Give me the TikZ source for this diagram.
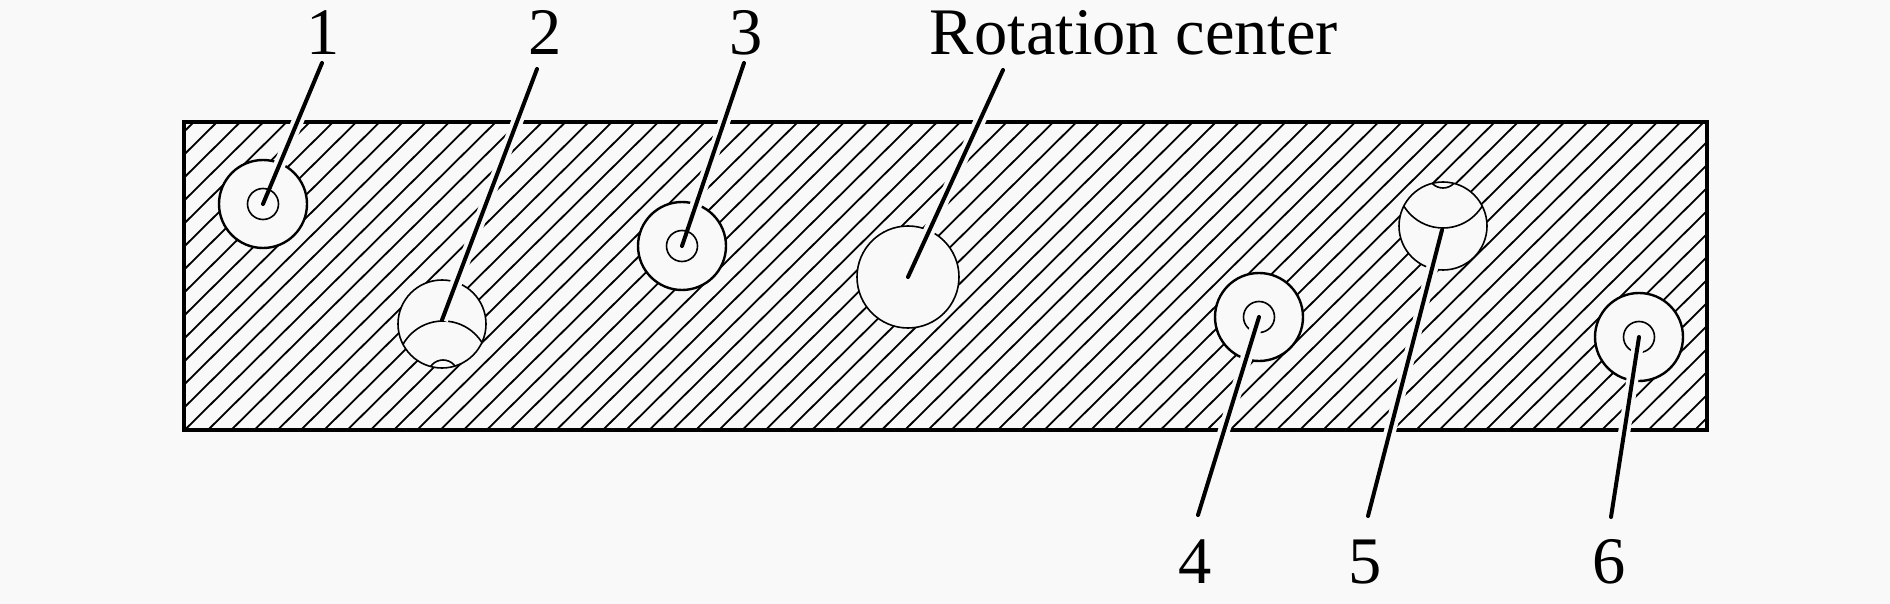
\documentclass[tikz,border=0pt]{standalone}
\usepackage{fontspec}
\setmainfont{Liberation Serif}
\begin{document}
\begin{tikzpicture}[x=1pt,y=-1pt]
      \newcommand{\plateleft}[0]{184}
      \newcommand{\plateright}[0]{1707}
      \newcommand{\platetop}[0]{122}
      \newcommand{\platebottom}[0]{430}

      \definecolor{paper}{rgb}{0.976,0.976,0.976}

      \tikzstyle{hole}=[
        draw,
        circle,
        fill=paper,
        minimum size=88pt,
        inner sep=0pt,
        line width=2.4pt
      ]
      \tikzstyle{bore}=[draw, circle, minimum size=31pt, inner sep=0pt, line width=1.6pt]
      \tikzstyle{numlabel}=[inner sep=0pt, anchor=base, font=\fontsize{66.5}{70}\selectfont]
      \tikzstyle{hatch}=[line width=1.8pt, draw=black]
      \tikzstyle{halo}=[line width=12pt, draw=paper]
      \tikzstyle{leader}=[line width=4pt, line cap=round, draw=black]

      \useasboundingbox[fill=paper] (0,0) rectangle (1890,604);

      % plate
      \begin{scope}
        \clip (\plateleft,\platetop) rectangle (\plateright,\platebottom);
        \foreach \k in {-8,...,84} {
          \draw[hatch] (183,201.7+23*\k) -- ++(1600,-1584);
        }
      \end{scope}
      \node[draw, line width=4pt, inner sep=0pt, minimum width=1523pt, minimum height=308pt] (plate) at (945.5,276) {};

      % holes
      \node[hole] (hole1) at (263,204) {};
      \node[hole, line width=1.6pt] (hole2) at (442,324) {};
      \node[hole] (hole3) at (682,246) {};
      \node[hole, minimum size=102pt, line width=1.6pt] (center) at (908,277) {};
      \node[hole] (hole4) at (1259,317) {};
      \node[hole, line width=1.6pt] (hole5) at (1443,226) {};
      \node[hole] (hole6) at (1639,337) {};

      \begin{scope}
        \clip (442,324) circle (44pt);
        \draw[line width=1.6pt] (443,367) circle (46pt);
        \draw[line width=1.6pt] (443,375) circle (15pt);
      \end{scope}
      \begin{scope}
        \clip (1443,226) circle (44pt);
        \draw[line width=1.6pt] (1443,182) circle (46pt);
        \draw[line width=1.6pt] (1443,173) circle (15pt);
      \end{scope}

      \node[bore] (bore4) at (1259,317) {};
      \node[bore] (bore6) at (1639,337) {};

      % labels
      \node[numlabel] (num1) at (323,55) {1};
      \node[numlabel] (num2) at (545,55) {2};
      \node[numlabel] (num3) at (746,55) {3};
      \node[numlabel] (rot)  at (1134,55) {Rotation center};
      \node[numlabel] (num4) at (1195,583) {4};
      \node[numlabel] (num5) at (1365,583) {5};
      \node[numlabel] (num6) at (1609,583) {6};

      \coordinate (tip1) at (322,63);
      \coordinate (tip2) at (537,69);
      \coordinate (tip3) at (744,63);
      \coordinate (tiprot) at (1003,70);
      \coordinate (tip4) at (1198,515);
      \coordinate (tip5) at (1368,516);
      \coordinate (tip6) at (1611,517);

      \coordinate (end2) at (442,320);
      \coordinate (end5) at (1442,230);

      % leaders, each on a gap in the hatching
      \draw[halo] (tip1) -- (hole1.center);
      \draw[halo] (tip2) -- (end2);
      \draw[halo] (tip3) -- (hole3.center);
      \draw[halo] (tiprot) -- (center.center);
      \draw[halo] (tip4) -- (hole4.center);
      \draw[halo] (tip5) -- (end5);
      \draw[halo] (tip6) -- (hole6.center);

      \node[bore] (bore1) at (263,204) {};
      \node[bore] (bore3) at (682,246) {};

      \draw[leader] (tip1) -- (hole1.center);
      \draw[leader] (tip2) -- (end2);
      \draw[leader] (tip3) -- (hole3.center);
      \draw[leader] (tiprot) -- (center.center);
      \draw[leader] (tip4) -- (hole4.center);
      \draw[leader] (tip5) -- (end5);
      \draw[leader] (tip6) -- (hole6.center);
    \end{tikzpicture}
\end{document}
